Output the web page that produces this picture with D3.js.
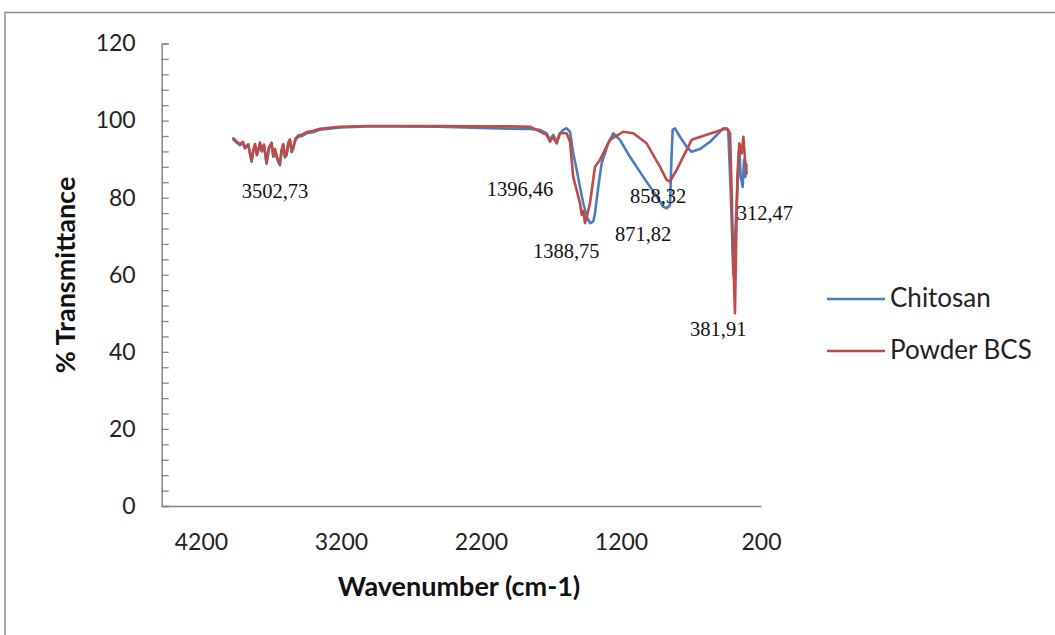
<!DOCTYPE html>
<html>
<head>
<meta charset="utf-8">
<script src="https://cdn.jsdelivr.net/npm/d3@7"></script>
<style>
  html, body { margin: 0; padding: 0; background: #fff; }
  svg { display: block; }
</style>
</head>
<body>
<svg id="chart" width="1055" height="635"></svg>
<script>
// ---- data (wavenumber cm-1, % transmittance) ----
const chitosan = [
  [3969, 95.2], [3945, 94.3], [3921, 93.6], [3900, 94.2], [3886, 92.8], [3862, 93.6],
  [3838, 89.3], [3826, 92.0], [3814, 93.6], [3800, 91.0], [3791, 92.1], [3778, 94.0],
  [3766, 92.0], [3750, 93.5], [3731, 88.8], [3715, 92.6], [3695, 94.0], [3683, 90.6],
  [3671, 92.3], [3655, 90.0], [3636, 88.4], [3624, 92.0], [3612, 93.6], [3600, 90.4],
  [3588, 91.0], [3576, 94.0], [3564, 94.8], [3552, 91.8], [3541, 92.7], [3525, 95.0],
  [3505, 95.8], [3480, 96.0], [3445, 96.7], [3400, 97.0], [3350, 97.6],
  [3207, 98.2], [3017, 98.5], [2800, 98.5], [2500, 98.4], [2200, 98.1], [2000, 97.9],
  [1850, 97.8], [1779, 97.6], [1731, 96.7], [1707, 95.0], [1684, 96.3], [1659, 94.5],
  [1636, 96.7], [1612, 97.6], [1588, 98.0], [1564, 97.1], [1541, 91.5], [1516, 87.2],
  [1493, 82.8], [1469, 78.5], [1445, 75.1], [1421, 73.4], [1398, 73.8], [1386, 75.9],
  [1362, 82.8], [1338, 88.9], [1291, 94.1], [1255, 96.7], [1207, 95.0], [1136, 90.6],
  [1041, 85.4], [945, 80.3], [898, 77.7], [874, 77.2], [850, 78.1], [838, 91.5],
  [831, 97.6], [814, 98.0], [779, 95.8], [731, 93.2], [695, 91.9], [636, 92.6],
  [564, 94.5], [469, 98.0], [434, 97.6], [414, 79.4], [398, 60.0], [369, 82.0],
  [355, 93.2], [345, 85.4], [331, 82.8], [321, 89.8], [312, 85.4], [304, 88.5]
];
const powderBCS = [
  [3969, 95.4], [3945, 94.6], [3921, 93.9], [3900, 94.5], [3886, 93.0], [3862, 93.9],
  [3838, 89.6], [3826, 92.3], [3814, 93.9], [3800, 91.3], [3791, 92.4], [3778, 94.3],
  [3766, 92.3], [3750, 93.8], [3731, 89.1], [3715, 92.9], [3695, 94.3], [3683, 90.9],
  [3671, 92.6], [3655, 90.3], [3636, 88.7], [3624, 92.3], [3612, 93.9], [3600, 90.7],
  [3588, 91.3], [3576, 94.3], [3564, 95.1], [3552, 92.1], [3541, 93.0], [3525, 95.3],
  [3505, 96.1], [3480, 96.3], [3445, 97.0], [3400, 97.3], [3350, 97.9],
  [3207, 98.4], [3017, 98.6], [2800, 98.6], [2500, 98.6], [2200, 98.5], [2000, 98.5],
  [1850, 98.4], [1802, 97.6], [1731, 96.3], [1707, 94.5], [1686, 95.8], [1659, 94.1],
  [1636, 96.7], [1588, 96.7], [1564, 94.5], [1541, 85.4], [1493, 78.6], [1480, 75.5],
  [1469, 76.5], [1457, 73.4], [1445, 75.0], [1421, 78.6], [1386, 88.0], [1350, 89.8],
  [1279, 95.0], [1184, 97.1], [1112, 96.7], [1017, 94.1], [921, 88.0], [874, 84.6],
  [850, 84.2], [802, 87.2], [731, 92.4], [695, 95.0], [588, 96.3], [445, 98.0],
  [421, 96.7], [409, 80.3], [400, 66.4], [386, 50.0], [369, 85.4], [355, 94.1],
  [338, 91.5], [326, 95.8], [314, 89.8], [302, 86.3]
];
const seriesNames = ["Chitosan", "Powder BCS"];
const seriesColors = ["#4A7EBB", "#BE4B48"];
const xTicks = [4200, 3200, 2200, 1200, 200];
const yTicks = [0, 20, 40, 60, 80, 100, 120];
const annotations = [
  { text: "3502,73", wn: 3909, t: 79.9 },
  { text: "1396,46", wn: 2159, t: 80.4 },
  { text: "1388,75", wn: 1829, t: 64.3 },
  { text: "871,82",  wn: 1243, t: 68.8 },
  { text: "858,32",  wn: 1136, t: 78.6 },
  { text: "312,47",  wn: 374,  t: 74.2 },
  { text: "381,91",  wn: 707,  t: 44.1 }
];

// ---- chart ----
const svg = d3.select("#chart");
const x = d3.scaleLinear().domain([4480, 200]).range([161.7, 761]);
const y = d3.scaleLinear().domain([0, 120]).range([506, 43.5]);
const axisColor = "#868686";
const sans = "Lato, 'Open Sans', sans-serif";

// outer chart border
svg.append("rect").attr("x", 5).attr("y", 12.5).attr("width", 1200).attr("height", 800)
  .attr("fill", "none").attr("stroke", "#8c8c8c").attr("stroke-width", 1.5);

// y axis with minor ticks every 4
const yAxis = d3.axisRight(y).tickValues(d3.range(0, 121, 4)).tickSize(7).tickFormat("");
const gy = svg.append("g").attr("transform", `translate(${x.range()[0]},0)`).call(yAxis);
gy.select(".domain").attr("stroke", axisColor).attr("stroke-width", 1.5);
gy.selectAll(".tick line").attr("stroke", axisColor).attr("stroke-width", 1.3);

// y labels
const yl = d3.axisLeft(y).tickValues(yTicks).tickSize(0).tickPadding(26).tickFormat(d3.format("d"));
const gyl = svg.append("g").attr("transform", `translate(${x.range()[0]},0)`).call(yl);
gyl.select(".domain").remove();
gyl.selectAll("text").attr("font-family", sans).attr("font-size", 23).attr("fill", "#222");

// x axis
const xAxis = d3.axisBottom(x).tickValues(xTicks).tickSize(0).tickPadding(28).tickFormat(d3.format("d"));
const gx = svg.append("g").attr("transform", `translate(0,${y(0)})`).call(xAxis);
gx.select(".domain").attr("stroke", axisColor).attr("stroke-width", 1.5);
gx.selectAll("text").attr("font-family", sans).attr("font-size", 23).attr("fill", "#222");

// axis titles
svg.append("text").attr("x", 459).attr("y", 596).attr("text-anchor", "middle")
  .attr("font-family", sans).attr("font-weight", "bold")
  .attr("font-size", 27).attr("fill", "#111").text("Wavenumber (cm-1)");
svg.append("text").attr("transform", "translate(75,275) rotate(-90)").attr("text-anchor", "middle")
  .attr("font-family", sans).attr("font-weight", "bold")
  .attr("font-size", 27).attr("fill", "#111").text("% Transmittance");

// lines
const line = d3.line().x(d => x(d[0])).y(d => y(d[1]));
[chitosan, powderBCS].forEach((s, i) => {
  svg.append("path").datum(s).attr("d", line).attr("fill", "none")
    .attr("stroke", seriesColors[i]).attr("stroke-width", 2.6)
    .attr("stroke-linejoin", "round").attr("stroke-linecap", "round");
});

// annotations
svg.append("g").selectAll("text").data(annotations).join("text")
  .attr("x", d => x(d.wn)).attr("y", d => y(d.t))
  .attr("font-family", "'Liberation Serif', 'Times New Roman', serif")
  .attr("font-size", 20.5).attr("fill", "#111").text(d => d.text);

// legend
const lg = svg.append("g");
seriesNames.forEach((n, i) => {
  const ly = 299 + i * 52;
  lg.append("line").attr("x1", 827).attr("x2", 885).attr("y1", ly).attr("y2", ly)
    .attr("stroke", seriesColors[i]).attr("stroke-width", 2.6);
  lg.append("text").attr("x", 890).attr("y", ly + 8)
    .attr("font-family", sans).attr("font-size", 26)
    .attr("fill", "#222").text(n);
});
</script>
</body>
</html>
